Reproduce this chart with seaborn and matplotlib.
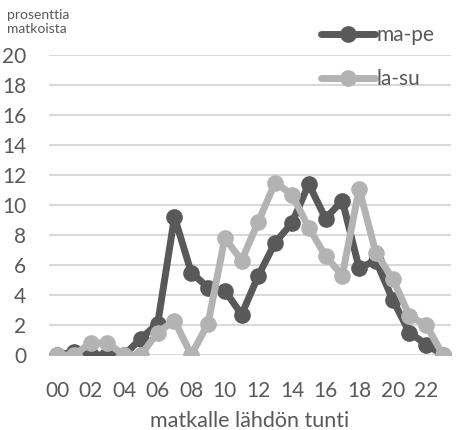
import matplotlib
matplotlib.use('Agg')
import matplotlib.pyplot as plt
import pandas as pd
import seaborn as sns

hours = list(range(24))
hour_labels = ['00', '02', '04', '06', '08', '10', '12', '14', '16', '18', '20', '22']
ma_pe = [0.0, 0.2, 0.0, 0.0, 0.0, 1.1, 2.1, 9.2, 5.5, 4.5, 4.3, 2.7,
         5.3, 7.5, 8.8, 11.4, 9.1, 10.3, 5.8, 6.3, 3.7, 1.5, 0.7, 0.0]
la_su = [0.0, 0.0, 0.8, 0.8, 0.0, 0.0, 1.5, 2.3, 0.0, 2.1, 7.8, 6.3,
         8.9, 11.5, 10.7, 8.5, 6.6, 5.3, 11.1, 6.8, 5.1, 2.6, 2.0, 0.0]
series_names = ['ma-pe', 'la-su']
colors = ['#595959', '#b3b3b3']

df = pd.DataFrame({
    'tunti': hours * 2,
    'osuus': ma_pe + la_su,
    'ryhma': [series_names[0]] * 24 + [series_names[1]] * 24,
})

sns.set_style('white')
plt.rcParams['font.family'] = ['Lato', 'DejaVu Sans']
text_color = '#595959'

fig = plt.figure(figsize=(4.6, 4.3), dpi=100)
ax = fig.add_axes([0.1057, 0.1744, 0.8756, 0.6976])

sns.lineplot(data=df, x='tunti', y='osuus', hue='ryhma', palette=colors,
             marker='o', markersize=12, markeredgewidth=0, linewidth=5,
             ax=ax, legend=False)

ax.set_xlim(-0.5, 23.5)
ax.set_ylim(0, 20)
ax.set_yticks(range(0, 21, 2))
ax.set_xticks(range(0, 24, 2))
ax.set_xticklabels(hour_labels)
ax.grid(axis='y', color='#d9d9d9', linewidth=1.5)
ax.set_axisbelow(True)
for s in ax.spines.values():
    s.set_visible(False)
ax.tick_params(axis='y', length=0, pad=16, labelsize=15, labelcolor=text_color)
ax.tick_params(axis='x', length=0, pad=19, labelsize=15, labelcolor=text_color)
ax.set_xlabel('matkalle lähdön tunti', fontsize=15.5, color=text_color, labelpad=7)
ax.set_ylabel('')

fig.text(7 / 460, 1 - 9 / 430, 'prosenttia\nmatkoista', fontsize=10,
         color=text_color, va='top', ha='left', linespacing=1.2)

handles = [plt.Line2D([], [], color=c, linewidth=5, marker='o', markersize=12,
                      markeredgewidth=0) for c in colors]
fig.legend(handles, series_names, loc='upper right', bbox_to_anchor=(0.985, 0.985),
           frameon=False, fontsize=15, labelcolor=text_color, handlelength=2.6,
           handletextpad=0.05, labelspacing=1.15)

fig.savefig('out.png', dpi=100)
